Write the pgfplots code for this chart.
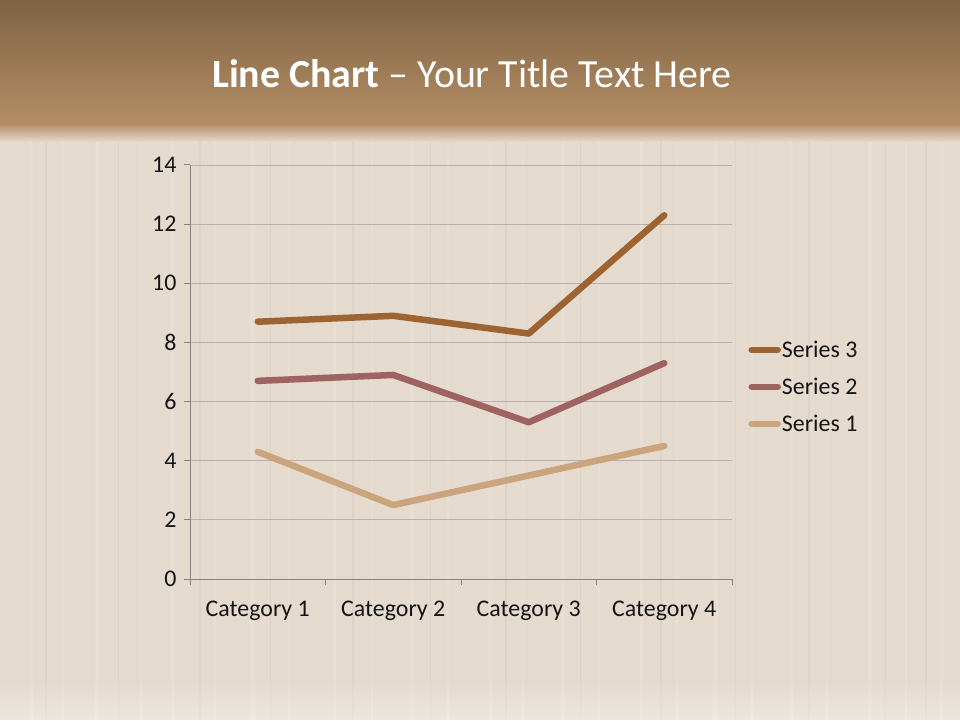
\documentclass[border=0pt]{standalone}
\usepackage{pgfplots}
\pgfplotsset{compat=1.18}
\usepackage{fontspec}
\setmainfont{Carlito}
\definecolor{wood}{RGB}{228,218,206}
\definecolor{woodlight}{RGB}{236,228,218}
\definecolor{wooddark}{RGB}{212,200,189}
\definecolor{bannertop}{RGB}{127,99,68}
\definecolor{bannerbot}{RGB}{180,142,100}
\definecolor{sthree}{RGB}{157,99,48}
\definecolor{stwo}{RGB}{158,98,96}
\definecolor{sone}{RGB}{201,164,124}
\definecolor{gridc}{RGB}{182,176,176}
\definecolor{axisc}{RGB}{134,130,128}
\definecolor{txt}{RGB}{20,20,20}
\begin{document}
\begin{tikzpicture}
\fill[wood] (0pt,0pt) rectangle (960pt,720pt);
\foreach \x/\w in {30/3,62/2,95/4,140/2,171/3,214/2,250/5,288/2,333/3,371/2,410/4,447/2,489/3,522/2,561/4,598/2,640/3,676/2,713/5,751/2,790/3,826/2,868/4,905/2,940/3}{
  \fill[woodlight,opacity=0.5] (\x pt,0pt) rectangle (\x pt+\w pt,600pt);
}
\foreach \x/\w in {45/1.5,118/1,199/1.5,270/1,352/1.5,430/1,505/1.5,580/1,660/1.5,735/1,808/1.5,885/1,925/1.5}{
  \fill[wooddark,opacity=0.4] (\x pt,0pt) rectangle (\x pt+\w pt,600pt);
}
\shade[top color=bannerbot, bottom color=wood] (0pt,578pt) rectangle (960pt,596pt);
\shade[top color=bannertop, bottom color=bannerbot] (0pt,595pt) rectangle (960pt,720pt);
\shade[top color=wood, bottom color=white, opacity=0.35] (0pt,0pt) rectangle (960pt,40pt);
\node[text=white, font=\fontsize{39.9}{46}\selectfont, anchor=base] at (472pt,632pt) {\textbf{Line Chart} -- Your Title Text Here};
\begin{axis}[
  at={(190pt,141pt)}, anchor=south west,
  scale only axis, width=542pt, height=414pt,
  xmin=0.5, xmax=4.5, ymin=0, ymax=14,
  ytick={0,2,...,14},
  xtick={1,2,3,4},
  xticklabels={Category 1,Category 2,Category 3,Category 4},
  minor xtick={0.5,1.5,2.5,3.5,4.5},
  axis lines*=left,
  axis line style={draw=axisc, line width=1pt, -},
  ymajorgrids, grid style={draw=gridc, line width=0.9pt},
  tick align=outside,
  major tick length=6pt, minor tick length=6pt,
  major x tick style={draw=none},
  minor x tick style={draw=axisc, line width=1pt},
  major y tick style={draw=axisc, line width=1pt},
  /pgf/number format/assume math mode=true,
  tick label style={font=\fontsize{23.9}{28}\selectfont, text=txt},
  yticklabel style={xshift=-4pt},
  xticklabel style={yshift=-12pt},
  clip=false,
  reverse legend,
  legend style={at={(1.03,0.464)}, anchor=west, draw=none, fill=none,
    font=\fontsize{23.9}{28}\selectfont, text=txt, row sep=17pt, inner sep=0pt,
    nodes={inner sep=1pt}},
  legend cell align=left,
  legend image code/.code={\draw[#1, line width=6.5pt, line cap=round] (0pt,0pt) -- (26pt,0pt);},
]
\addplot[sone, line width=6.5pt, line cap=round, line join=round] coordinates {(1,4.3) (2,2.5) (3,3.5) (4,4.5)};
\addlegendentry{Series 1}
\addplot[stwo, line width=6.5pt, line cap=round, line join=round] coordinates {(1,6.7) (2,6.9) (3,5.3) (4,7.3)};
\addlegendentry{Series 2}
\addplot[sthree, line width=6.5pt, line cap=round, line join=round] coordinates {(1,8.7) (2,8.9) (3,8.3) (4,12.3)};
\addlegendentry{Series 3}
\end{axis}
\end{tikzpicture}
\end{document}
